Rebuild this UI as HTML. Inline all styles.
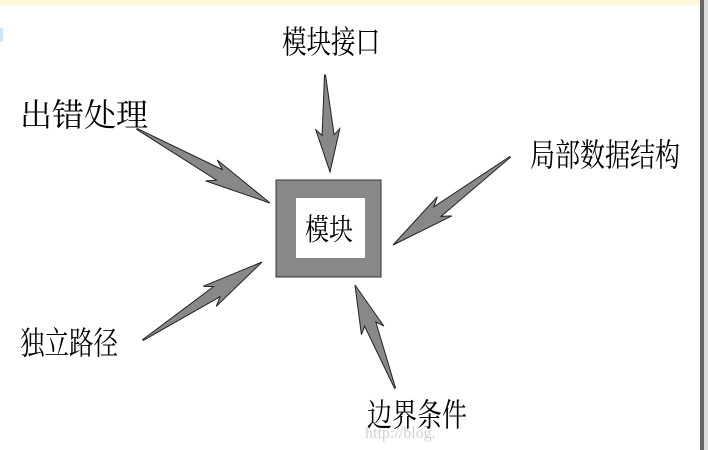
<!DOCTYPE html>
<html><head><meta charset="utf-8"><style>
html,body{margin:0;padding:0;background:#fff;}
svg{display:block;}
text{font-family:"Liberation Serif","Noto Serif CJK SC","Noto Sans CJK SC",serif;fill:#000;}
</style></head><body>
<svg id="s" width="708" height="450" xmlns="http://www.w3.org/2000/svg">
<rect x="0" y="0" width="708" height="450" fill="#fff"/>
<rect x="0" y="0" width="700" height="5" fill="#fdf8dc"/>
<rect x="0" y="28" width="3" height="14" fill="#cfe4f5"/>
<rect x="700" y="0" width="4" height="450" fill="#666"/>
<rect x="704" y="0" width="4" height="450" fill="#ddd"/>
<rect x="276" y="180" width="105" height="97" fill="#888" stroke="#333" stroke-width="1"/>
<rect x="296" y="198" width="69" height="60" fill="#fff"/>
<text x="305" y="240" font-size="30" textLength="48" lengthAdjust="spacingAndGlyphs">模块</text>
<text x="282" y="53" font-size="32" textLength="98" lengthAdjust="spacingAndGlyphs">模块接口</text>
<text x="20" y="126" font-size="32" textLength="128" lengthAdjust="spacingAndGlyphs">出错处理</text>
<text x="530" y="166" font-size="32" textLength="150" lengthAdjust="spacingAndGlyphs">局部数据结构</text>
<text x="20" y="354" font-size="32" textLength="98" lengthAdjust="spacingAndGlyphs">独立路径</text>
<text x="367" y="426" font-size="32" textLength="100" lengthAdjust="spacingAndGlyphs">边界条件</text>
<text x="365" y="438" font-size="16" fill="#ccc" style="fill:#cfcfcf">http://blog.</text>
<g id="arrows"></g>
</svg>
<script>
var arrows=[[325,75,330,172],[137,129,270,203],[143,340,262,262],[510,157,393,245],[395,388,355,285]];
var g=document.getElementById('arrows');
arrows.forEach(function(a){
 var dx=a[2]-a[0],dy=a[3]-a[1],L=Math.sqrt(dx*dx+dy*dy),ux=dx/L,uy=dy/L,nx=-uy,ny=ux;
 function p(t,w){return (a[0]+ux*t+nx*w).toFixed(1)+','+(a[1]+uy*t+ny*w).toFixed(1);}
 var pts=[p(0,0.5),p(L*0.62,6),p(L*0.56,12),a[2]+','+a[3],p(L*0.56,-12),p(L*0.62,-6),p(0,-0.5)].join(' ');
 var e=document.createElementNS('http://www.w3.org/2000/svg','polygon');
 e.setAttribute('points',pts);e.setAttribute('fill','#888');e.setAttribute('stroke','#222');e.setAttribute('stroke-width','1');
 g.appendChild(e);
});
</script>
</body></html>
